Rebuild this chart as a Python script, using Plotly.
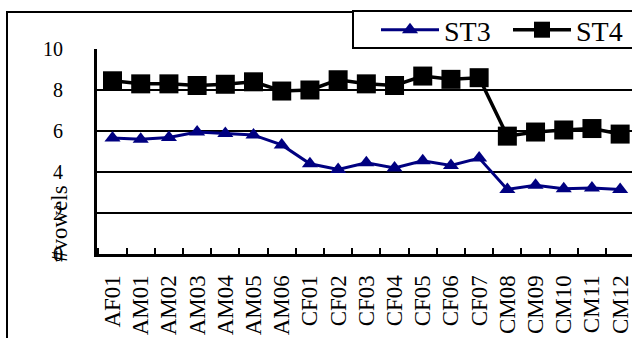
import plotly.graph_objects as go

categories = ["AF01", "AM01", "AM02", "AM03", "AM04", "AM05", "AM06",
              "CF01", "CF02", "CF03", "CF04", "CF05", "CF06", "CF07",
              "CM08", "CM09", "CM10", "CM11", "CM12"]
st3 = [5.66, 5.6, 5.68, 5.95, 5.88, 5.8, 5.32, 4.4, 4.12, 4.45, 4.2, 4.55,
       4.32, 4.68, 3.15, 3.35, 3.18, 3.22, 3.15]
st4 = [8.45, 8.3, 8.3, 8.22, 8.28, 8.4, 7.95, 8.0, 8.5, 8.3, 8.22, 8.68,
       8.52, 8.6, 5.75, 5.95, 6.05, 6.12, 5.85]
y_ticks = [0, 2, 4, 6, 8, 10]

W, H = 632, 338
L, R, T, B = 97, 632, 49, 254
FONT = "Liberation Serif, DejaVu Serif, serif"

def px(xp):
    return (xp - L) / (R - L)

def py(yp):
    return (B - yp) / (B - T)

fig = go.Figure()
fig.add_trace(go.Scatter(
    x=categories, y=st3, name="ST3", mode="lines+markers",
    line=dict(color="#000080", width=3),
    marker=dict(symbol="triangle-up", size=14, color="#000080"),
    cliponaxis=False))
fig.add_trace(go.Scatter(
    x=categories, y=st4, name="ST4", mode="lines+markers",
    line=dict(color="black", width=3.5),
    marker=dict(symbol="square", size=19, color="black"),
    cliponaxis=False))

fig.update_layout(
    width=W, height=H,
    margin=dict(l=L, r=W - R, t=T, b=H - B, autoexpand=False),
    paper_bgcolor="white", plot_bgcolor="white",
    font=dict(family=FONT, color="black", size=20),
    showlegend=True,
    legend=dict(orientation="h", x=px(376), xanchor="left",
                y=py(30), yanchor="middle", bgcolor="rgba(0,0,0,0)",
                borderwidth=0, itemwidth=58, entrywidth=59,
                font=dict(family=FONT, size=28, color="black")),
    xaxis=dict(type="category", range=[-0.55, 18.42],
               showline=True, linecolor="black", linewidth=3,
               ticks="inside", tickson="boundaries", ticklen=6,
               tickwidth=2, tickcolor="black", tickangle=-90,
               ticklabelstandoff=9,
               showgrid=False, zeroline=False,
               tickfont=dict(family=FONT, size=23, color="black")),
    yaxis=dict(range=[0, 10], tickvals=y_ticks,
               showline=True, linecolor="black", linewidth=3,
               ticks="", showgrid=True, gridcolor="black", gridwidth=2,
               zeroline=False, ticklabelstandoff=27,
               tickfont=dict(family=FONT, size=20, color="black")),
    shapes=[
        dict(type="rect", xref="paper", yref="paper",
             x0=px(7), x1=px(700), y0=py(400), y1=py(12),
             line=dict(color="black", width=2), layer="below"),
        dict(type="rect", xref="paper", yref="paper",
             x0=px(353), x1=px(700), y0=py(48), y1=py(11),
             line=dict(color="black", width=2), fillcolor="white",
             layer="below"),
    ],
    annotations=[
        dict(text="#vowels", xref="paper", yref="paper",
             x=px(59), y=py(224), xanchor="center", yanchor="middle",
             textangle=-90, showarrow=False,
             font=dict(family=FONT, size=23, color="black")),
    ],
)

fig.write_html("out.html", config={"displayModeBar": False},
               post_script="document.body.style.margin='0';"
                           "document.body.style.overflow='hidden';")
